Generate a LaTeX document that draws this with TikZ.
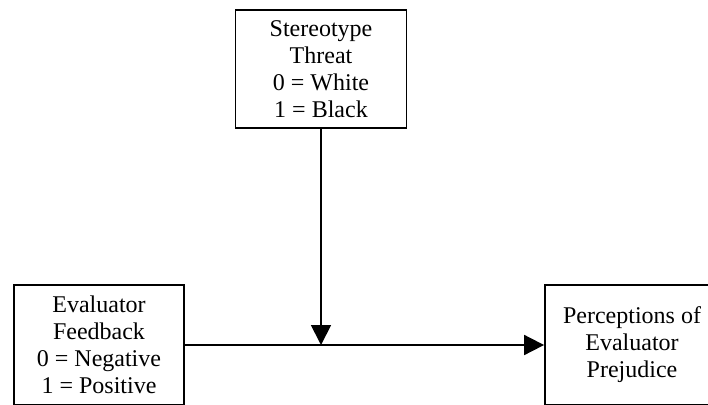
\documentclass[tikz,border=0pt]{standalone}
\usepackage{fontspec}
\setmainfont{Liberation Serif}
\usetikzlibrary{arrows.meta}
\begin{document}
\begin{tikzpicture}[x=1pt,y=-1pt,
  varbox/.style={draw, line width=1.8pt, align=center, inner sep=0pt,
    font=\fontsize{24}{27}\selectfont},
  conn/.style={line width=1.8pt, -{Triangle[length=20pt,width=20pt]}}]
\useasboundingbox (0,0) rectangle (708,404);
\clip (0,0) rectangle (708,404);
\node[varbox, minimum width=171pt, minimum height=118pt] (st) at (321,69)
  {Stereotype\\Threat\\0 = White\\1 = Black};
\node[varbox, minimum width=170pt, minimum height=120pt] (ef) at (99,345)
  {Evaluator\\Feedback\\0 = Negative\\1 = Positive};
\node[varbox, minimum width=174pt, minimum height=120pt] (pp) at (632,345)
  {Perceptions of\\Evaluator\\Prejudice};
\coordinate (m) at (st.south |- ef.east);
\draw[conn] (ef.east) -- (pp.west);
\draw[conn] (st.south) -- (m);
\end{tikzpicture}
\end{document}
